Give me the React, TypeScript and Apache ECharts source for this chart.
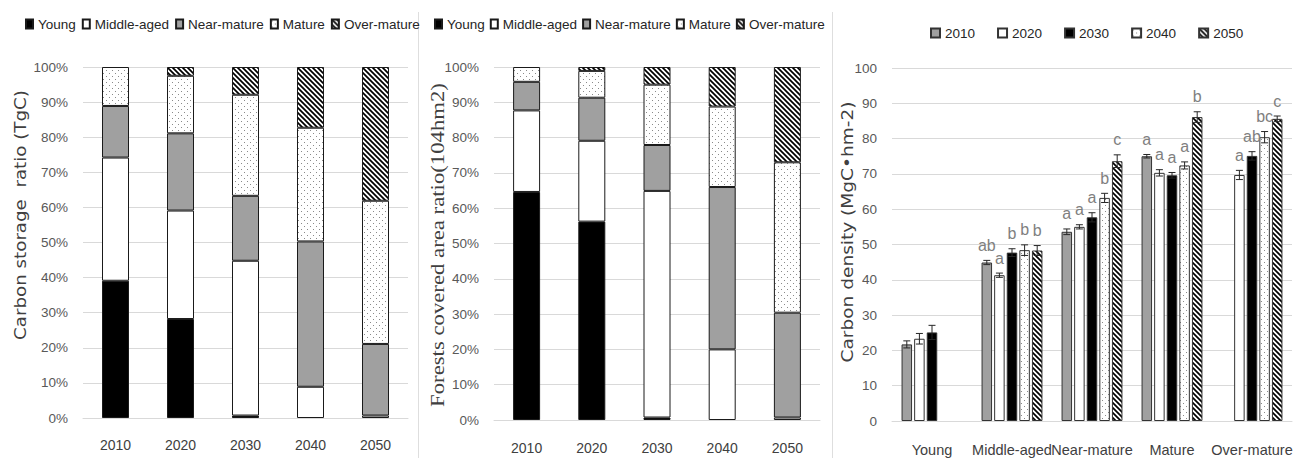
import React, { useEffect, useRef } from 'react';
import * as echarts from 'echarts';

// ---------- categories ----------
const YEARS = ['2010', '2020', '2030', '2040', '2050'];
const AGE_CLASSES = ['Young', 'Middle-aged', 'Near-mature', 'Mature', 'Over-mature'];

// ---------- panel 1: carbon storage ratio (%), per year ----------
const storageYoung = [39.1, 28.2, 0.7, 0, 0];
const storageMiddle = [35.1, 30.9, 44.1, 8.9, 0.7];
const storageNear = [14.7, 22.0, 18.5, 41.4, 20.4];
const storageMature = [11.1, 16.4, 28.8, 32.4, 40.8];
const storageOver = [0, 2.5, 7.9, 17.3, 38.1];

// ---------- panel 2: forest covered area ratio (%), per year ----------
const areaYoung = [64.6, 56.2, 0.7, 0, 0];
const areaMiddle = [23.1, 22.9, 64.2, 20.0, 0.7];
const areaNear = [8.1, 12.2, 13.0, 46.0, 29.7];
const areaMature = [4.2, 7.6, 17.1, 22.8, 42.6];
const areaOver = [0, 1.1, 5.0, 11.2, 27.0];

// ---------- panel 3: carbon density (MgC/hm2), per age class ----------
const density2010 = [21.7, 44.9, 53.6, 75.0, null];
const density2020 = [23.3, 41.3, 55.0, 70.3, 69.7];
const density2030 = [25.1, 47.7, 57.7, 69.6, 75.1];
const density2040 = [null, 48.4, 63.2, 72.4, 80.4];
const density2050 = [null, 48.3, 73.6, 86.1, 85.6];

const err2010 = [1.0, 0.6, 0.8, 0.5, null];
const err2020 = [1.5, 0.6, 0.6, 0.9, 1.3];
const err2030 = [2.0, 1.1, 1.3, 0.8, 1.2];
const err2040 = [null, 1.5, 1.3, 1.0, 1.6];
const err2050 = [null, 1.4, 1.8, 1.5, 0.8];

const letters2010 = ['', 'ab', 'a', 'a', ''];
const letters2020 = ['', 'a', 'a', 'a', 'a'];
const letters2030 = ['', 'b', 'a', 'a', 'ab'];
const letters2040 = ['', 'b', 'b', 'a', 'bc'];
const letters2050 = ['', 'b', 'c', 'b', 'c'];

const densityByYear = [density2010, density2020, density2030, density2040, density2050];
const errByYear = [err2010, err2020, err2030, err2040, err2050];
const lettersByYear = [letters2010, letters2020, letters2030, letters2040, letters2050];

// ---------- styling ----------
const SANS = '"Liberation Sans", Arial, sans-serif';
const GREY = '#a0a0a0';
const GRID_LINE = '#d9d9d9';

const svgUrl = (s: string) => 'data:image/svg+xml;charset=utf-8,' + encodeURIComponent(s);
const DOTS: any = {
  image: svgUrl(
    '<svg xmlns="http://www.w3.org/2000/svg" width="6" height="6"><rect width="6" height="6" fill="#ffffff"/><rect x="1" y="1" width="1" height="1" fill="#8a8a8a"/><rect x="4" y="4" width="1" height="1" fill="#8a8a8a"/></svg>'
  ),
  repeat: 'repeat',
  imageWidth: 6,
  imageHeight: 6,
};
const STRIPES: any = {
  image: svgUrl(
    '<svg xmlns="http://www.w3.org/2000/svg" width="5" height="5"><rect width="5" height="5" fill="#ffffff"/><path d="M-1,-1L6,6M-1,4L1,6M4,-1L6,1" stroke="#000000" stroke-width="1.7"/></svg>'
  ),
  repeat: 'repeat',
  imageWidth: 5,
  imageHeight: 5,
};

const AGE_FILLS: any[] = ['#000000', '#ffffff', GREY, DOTS, STRIPES];
const YEAR_FILLS: any[] = [GREY, '#ffffff', '#000000', DOTS, STRIPES];

const BAR_W = 10.5;
const BAR_GAP = 0.2;

function measure(text: string, font: string): number {
  const ctx = document.createElement('canvas').getContext('2d');
  if (!ctx) return text.length * 8;
  ctx.font = font;
  return ctx.measureText(text).width;
}

function titleText(text: string, font: string, cx: number, cy: number, length: number) {
  const w = measure(text, font) || 1;
  return {
    type: 'text',
    x: cx,
    y: cy,
    rotation: Math.PI / 2,
    scaleX: length / w,
    style: {
      text,
      font,
      fill: '#404040',
      textFill: '#404040',
      align: 'center',
      textAlign: 'center',
      verticalAlign: 'middle',
      textVerticalAlign: 'middle',
    },
  };
}

function stacked(name: string, data: number[], fill: any, gi: number) {
  return {
    type: 'bar',
    name,
    stack: 'panel' + gi,
    xAxisIndex: gi,
    yAxisIndex: gi,
    barWidth: 27,
    data: data.map((v) => (v === 0 ? '-' : v)),
    itemStyle: { color: fill, borderColor: '#1a1a1a', borderWidth: 1 },
    emphasis: { disabled: true },
  };
}

function errorSeries(yi: number) {
  const vals = densityByYear[yi];
  const errs = errByYear[yi];
  const lets = lettersByYear[yi];
  const data: number[][] = [];
  vals.forEach((v, ci) => {
    if (v != null) data.push([ci, v as number, (errs[ci] as number) || 0]);
  });
  return {
    type: 'custom',
    xAxisIndex: 2,
    yAxisIndex: 2,
    z: 10,
    silent: true,
    encode: { x: 0, y: 1 },
    data,
    renderItem: (params: any, api: any) => {
      const ci = api.value(0);
      const v = api.value(1);
      const e = api.value(2);
      const off = (yi - 2) * BAR_W * (1 + BAR_GAP);
      const pTop = api.coord([ci, v + e]);
      const pBot = api.coord([ci, v - e]);
      const x = pTop[0] + off;
      const hw = 3.5;
      const st = { stroke: '#262626', lineWidth: 1 };
      const children: any[] = [
        { type: 'line', shape: { x1: x, y1: pTop[1], x2: x, y2: pBot[1] }, style: st },
        { type: 'line', shape: { x1: x - hw, y1: pTop[1], x2: x + hw, y2: pTop[1] }, style: st },
        { type: 'line', shape: { x1: x - hw, y1: pBot[1], x2: x + hw, y2: pBot[1] }, style: st },
      ];
      const letter = lets[ci];
      if (letter) {
        children.push({
          type: 'text',
          x,
          y: pTop[1] - 7,
          style: {
            text: letter,
            font: '16px ' + SANS,
            fill: '#7f7f7f',
            textFill: '#7f7f7f',
            align: 'center',
            textAlign: 'center',
            verticalAlign: 'bottom',
            textVerticalAlign: 'bottom',
          },
        });
      }
      return { type: 'group', children };
    },
  };
}

function yAxis(gi: number, pct: boolean) {
  return {
    type: 'value',
    gridIndex: gi,
    min: 0,
    max: 100,
    interval: 10,
    axisLine: { show: false },
    axisTick: { show: false },
    axisLabel: {
      formatter: pct ? '{value}%' : '{value}',
      fontSize: 13.5,
      fontFamily: SANS,
      color: '#595959',
      margin: 15,
    },
    splitLine: { lineStyle: { color: GRID_LINE, width: 1 } },
  };
}

function xAxis(gi: number, data: string[], fontSize: number, margin: number) {
  return {
    type: 'category',
    gridIndex: gi,
    data,
    axisTick: { show: false },
    axisLine: { show: true, lineStyle: { color: GRID_LINE } },
    axisLabel: { fontSize, fontFamily: SANS, color: '#404040', margin, interval: 0 },
  };
}

function legend(left: number, top: number, data: string[], iw: number, ih: number, gap: number) {
  return {
    left,
    top,
    data,
    icon: 'rect',
    itemWidth: iw,
    itemHeight: ih,
    itemGap: gap,
    selectedMode: false,
    textStyle: { fontSize: 13.5, fontFamily: SANS, color: '#262626' },
  };
}

function buildOption(): any {
  const storage = [storageYoung, storageMiddle, storageNear, storageMature, storageOver];
  const area = [areaYoung, areaMiddle, areaNear, areaMature, areaOver];
  const series: any[] = [];
  AGE_CLASSES.forEach((n, i) => series.push(stacked(n, storage[i], AGE_FILLS[i], 0)));
  AGE_CLASSES.forEach((n, i) => series.push(stacked(n, area[i], AGE_FILLS[i], 1)));
  YEARS.forEach((y, i) =>
    series.push({
      type: 'bar',
      name: y,
      xAxisIndex: 2,
      yAxisIndex: 2,
      barWidth: BAR_W,
      barGap: BAR_GAP * 100 + '%',
      data: densityByYear[i].map((v) => (v == null ? '-' : v)),
      itemStyle: { color: YEAR_FILLS[i], borderColor: '#333333', borderWidth: 1 },
      emphasis: { disabled: true },
    })
  );
  YEARS.forEach((_, i) => series.push(errorSeries(i)));

  return {
    animation: false,
    backgroundColor: '#ffffff',
    grid: [
      { left: 83, top: 67, width: 325, height: 351 },
      { left: 494, top: 67, width: 326, height: 353 },
      { left: 892, top: 68, width: 400, height: 353 },
    ],
    xAxis: [xAxis(0, YEARS, 14, 20), xAxis(1, YEARS, 14, 21), xAxis(2, AGE_CLASSES, 14.5, 21)],
    yAxis: [yAxis(0, true), yAxis(1, true), yAxis(2, false)],
    legend: [
      legend(20, 12, AGE_CLASSES, 7, 9, 6),
      legend(429, 12, AGE_CLASSES, 7, 9, 5),
      legend(925, 21, YEARS, 9, 9, 22),
    ],
    graphic: [
      { type: 'line', shape: { x1: 418.5, y1: 12, x2: 418.5, y2: 458 }, style: { stroke: '#dedede', lineWidth: 1 } },
      { type: 'line', shape: { x1: 832.5, y1: 12, x2: 832.5, y2: 458 }, style: { stroke: '#dedede', lineWidth: 1 } },
      titleText('Carbon storage  ratio (TgC)', '15px "DejaVu Sans"', 21, 215, 250),
      titleText('Forests covered area ratio(104hm2)', '18px "Liberation Serif"', 438, 245, 324),
      titleText('Carbon density (MgC\u2022hm-2)', '15px "DejaVu Sans"', 848, 232, 261),
    ],
    series,
  };
}

export default function App() {
  const ref = useRef<HTMLDivElement>(null);
  useEffect(() => {
    if (!ref.current) return;
    const chart = echarts.init(ref.current, null, { renderer: 'svg' });
    chart.setOption(buildOption());
    return () => chart.dispose();
  }, []);
  return (
    <div
      ref={ref}
      style={{ position: 'absolute', left: 0, top: 0, width: 1296, height: 460, background: '#ffffff' }}
    />
  );
}
